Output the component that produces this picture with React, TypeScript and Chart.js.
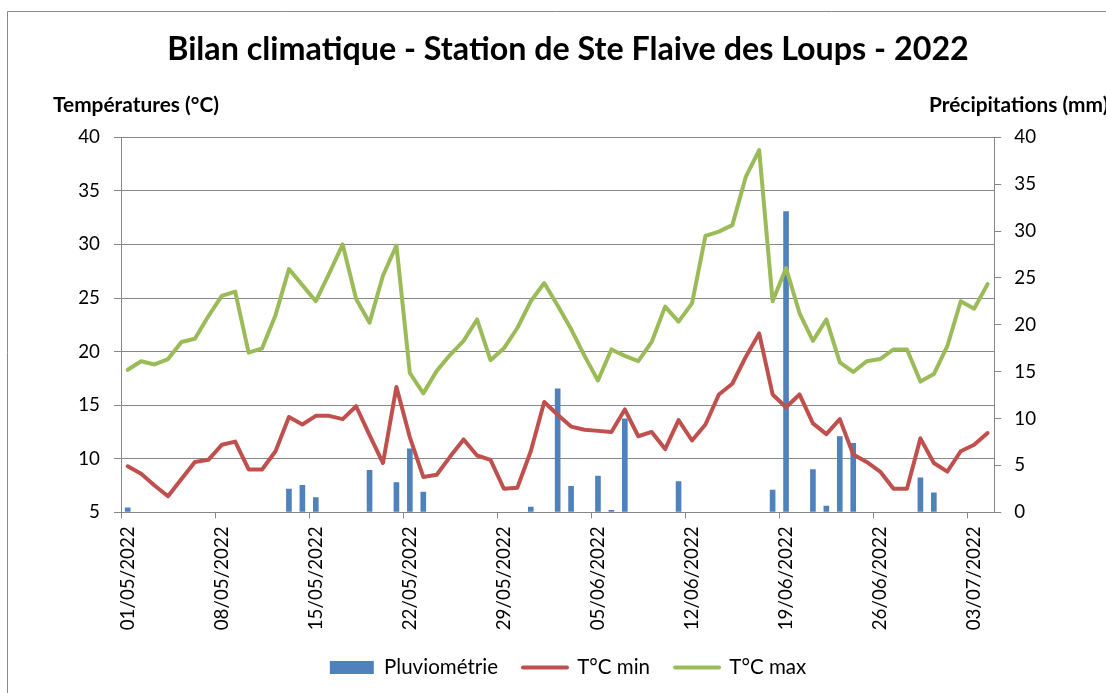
import React, { useEffect, useRef } from 'react';
import { Chart, registerables } from 'chart.js';

Chart.register(...registerables);

const dates = [
  '01/05/2022', '02/05/2022', '03/05/2022', '04/05/2022', '05/05/2022', '06/05/2022', '07/05/2022', '08/05/2022',
  '09/05/2022', '10/05/2022', '11/05/2022', '12/05/2022', '13/05/2022', '14/05/2022', '15/05/2022', '16/05/2022',
  '17/05/2022', '18/05/2022', '19/05/2022', '20/05/2022', '21/05/2022', '22/05/2022', '23/05/2022', '24/05/2022',
  '25/05/2022', '26/05/2022', '27/05/2022', '28/05/2022', '29/05/2022', '30/05/2022', '31/05/2022',
  '01/06/2022', '02/06/2022', '03/06/2022', '04/06/2022', '05/06/2022', '06/06/2022', '07/06/2022', '08/06/2022',
  '09/06/2022', '10/06/2022', '11/06/2022', '12/06/2022', '13/06/2022', '14/06/2022', '15/06/2022', '16/06/2022',
  '17/06/2022', '18/06/2022', '19/06/2022', '20/06/2022', '21/06/2022', '22/06/2022', '23/06/2022', '24/06/2022',
  '25/06/2022', '26/06/2022', '27/06/2022', '28/06/2022', '29/06/2022', '30/06/2022',
  '01/07/2022', '02/07/2022', '03/07/2022', '04/07/2022',
];

const pluviometrie = [
  0.5, 0, 0, 0, 0, 0, 0, 0, 0, 0,
  0, 0, 2.5, 2.9, 1.6, 0, 0, 0, 4.5, 0,
  3.2, 6.8, 2.2, 0, 0, 0, 0, 0, 0, 0,
  0.6, 0, 13.2, 2.8, 0, 3.9, 0.25, 10.0, 0, 0,
  0, 3.3, 0, 0, 0, 0, 0, 0, 2.4, 32.1,
  0, 4.6, 0.7, 8.1, 7.4, 0, 0, 0, 0, 3.7,
  2.1, 0, 0, 0, 0,
];

const tMin = [
  9.3, 8.6, 7.5, 6.5, 8.1, 9.7, 9.9, 11.3, 11.6, 9.0,
  9.0, 10.7, 13.9, 13.2, 14.0, 14.0, 13.7, 14.9, 12.2, 9.6,
  16.7, 12.0, 8.3, 8.5, 10.2, 11.8, 10.3, 9.9, 7.2, 7.3,
  10.7, 15.3, 14.1, 13.0, 12.7, 12.6, 12.5, 14.6, 12.1, 12.5,
  10.9, 13.6, 11.7, 13.2, 16.0, 17.0, 19.5, 21.7, 16.0, 14.8,
  16.0, 13.3, 12.3, 13.7, 10.4, 9.7, 8.8, 7.2, 7.2, 11.9,
  9.6, 8.8, 10.7, 11.3, 12.4,
];

const tMax = [
  18.3, 19.1, 18.8, 19.3, 20.9, 21.2, 23.3, 25.2, 25.6, 19.9,
  20.3, 23.4, 27.7, 26.2, 24.7, 27.3, 30.0, 24.9, 22.7, 27.1,
  29.9, 18.0, 16.1, 18.2, 19.7, 21.0, 23.0, 19.2, 20.3, 22.2,
  24.7, 26.4, 24.3, 22.1, 19.6, 17.3, 20.2, 19.6, 19.1, 20.9,
  24.2, 22.8, 24.5, 30.8, 31.2, 31.8, 36.3, 38.8, 24.7, 27.8,
  23.6, 21.0, 23.0, 19.0, 18.1, 19.1, 19.3, 20.2, 20.2, 17.2,
  17.9, 20.5, 24.7, 24.0, 26.3,
];

const tempTicks = [5, 10, 15, 20, 25, 30, 35, 40];
const rainTicks = [0, 5, 10, 15, 20, 25, 30, 35, 40];

const seriesNames = ['Pluviométrie', 'T°C min', 'T°C max'];
const titleText = 'Bilan climatique - Station de Ste Flaive des Loups - 2022';
const leftAxisTitle = 'Températures (°C)';
const rightAxisTitle = 'Précipitations (mm)';

const BLUE = '#4F81BD';
const RED = '#C0504D';
const GREEN = '#9BBB59';
const GRID = '#868686';
const FAMILY = 'Lato, "Open Sans", sans-serif';
const seriesColors = [BLUE, RED, GREEN];

const W = 1106;
const H = 693;

function fitSize(text: string, weight: string, target: number): number {
  const c = document.createElement('canvas').getContext('2d');
  if (!c) return 16;
  c.font = `${weight} 100px ${FAMILY}`;
  const w = c.measureText(text).width;
  return (100 * target) / w;
}

export default function App() {
  const ref = useRef<HTMLCanvasElement | null>(null);

  useEffect(() => {
    const canvas = ref.current;
    if (!canvas) return;
    document.body.style.overflow = 'hidden';

    const titleSize = fitSize(titleText, 'bold', 802);
    const tickSize = fitSize('01/05/2022', 'normal', 104);
    const legendSize = fitSize('Pluviométrie', 'normal', 114);
    const axisTitleSize = fitSize(leftAxisTitle, 'bold', 166);

    const chartTop = 137.3;
    const chartBottom = 512.3;
    const chartLeft = 121;
    const chartRight = 994.3;
    const padLeft = 30;

    const titlePadTop = 50 - 0.6 * titleSize;
    const titlePadBottom = chartTop - 1.2 * titleSize - titlePadTop;

    const legendPad = 25;
    const L = legendSize;
    const legendCenter = 667.5;
    const legendTop = legendCenter - legendPad - L / 2;
    const padBottom = H - legendTop - (L + legendPad + 10);
    const xAxisHeight = legendTop - chartBottom;

    const decor = {
      id: 'decor',
      beforeDraw(chart: any) {
        const ctx = chart.ctx;
        ctx.save();
        ctx.strokeStyle = '#8a8a8a';
        ctx.lineWidth = 1;
        ctx.beginPath();
        ctx.moveTo(7.5, H);
        ctx.lineTo(7.5, 11.5);
        ctx.lineTo(W, 11.5);
        ctx.stroke();
        ctx.restore();
      },
      afterDraw(chart: any) {
        const ctx = chart.ctx;
        ctx.save();
        ctx.fillStyle = '#000';
        ctx.font = `bold ${axisTitleSize}px ${FAMILY}`;
        ctx.textBaseline = 'middle';
        ctx.textAlign = 'left';
        ctx.fillText(leftAxisTitle, 53, 105);
        ctx.fillText(rightAxisTitle, 929, 105);
        ctx.restore();
      },
    };

    const chart = new Chart(canvas, {
      type: 'bar',
      data: {
        labels: dates,
        datasets: [
          {
            type: 'bar',
            label: seriesNames[0],
            data: pluviometrie,
            backgroundColor: BLUE,
            borderWidth: 0,
            yAxisID: 'y1',
            barPercentage: 0.42,
            categoryPercentage: 1,
            order: 2,
          },
          {
            type: 'line',
            label: seriesNames[1],
            data: tMin,
            borderColor: RED,
            backgroundColor: RED,
            borderWidth: 4,
            pointRadius: 0,
            pointHoverRadius: 0,
            tension: 0,
            borderJoinStyle: 'round',
            borderCapStyle: 'round',
            yAxisID: 'y',
            order: 1,
          },
          {
            type: 'line',
            label: seriesNames[2],
            data: tMax,
            borderColor: GREEN,
            backgroundColor: GREEN,
            borderWidth: 4,
            pointRadius: 0,
            pointHoverRadius: 0,
            tension: 0,
            borderJoinStyle: 'round',
            borderCapStyle: 'round',
            yAxisID: 'y',
            order: 1,
          },
        ] as any,
      },
      options: {
        responsive: false,
        animation: false,
        devicePixelRatio: 1,
        layout: { padding: { left: padLeft, right: 0, top: 0, bottom: padBottom } },
        plugins: {
          tooltip: { enabled: false },
          title: {
            display: true,
            text: titleText,
            color: '#000',
            font: { family: FAMILY, size: titleSize, weight: 'bold' },
            padding: { top: titlePadTop, bottom: titlePadBottom },
          },
          legend: {
            display: true,
            position: 'bottom',
            align: 'center',
            labels: {
              color: '#000',
              font: { family: FAMILY, size: legendSize },
              usePointStyle: true,
              pointStyleWidth: 44,
              boxHeight: 13,
              padding: legendPad,
              generateLabels: (c: any) => {
                const items = (Chart.defaults.plugins.legend.labels as any).generateLabels(c);
                items.sort((a: any, b: any) => a.datasetIndex - b.datasetIndex);
                items.forEach((it: any) => {
                  const di = it.datasetIndex;
                  const col = seriesColors[di];
                  it.text = seriesNames[di];
                  if (di === 0) {
                    it.pointStyle = 'rect';
                    it.fillStyle = col;
                    it.strokeStyle = col;
                    it.lineWidth = 0;
                  } else {
                    it.pointStyle = 'line';
                    it.fillStyle = col;
                    it.strokeStyle = col;
                    it.lineWidth = 4;
                    it.lineCap = 'round';
                  }
                });
                return items;
              },
            },
          },
        },
        scales: {
          x: {
            type: 'category',
            offset: true,
            grid: {
              offset: true,
              drawOnChartArea: false,
              drawTicks: true,
              tickLength: 6,
              color: (ctx: any) =>
                ctx.index !== undefined && ctx.index % 7 === 0 ? GRID : 'rgba(0,0,0,0)',
            },
            border: { display: true, color: GRID, width: 1 },
            ticks: {
              autoSkip: false,
              maxRotation: 90,
              minRotation: 90,
              padding: 8,
              color: '#000',
              font: { family: FAMILY, size: tickSize },
              callback: (_v: any, i: number) => (i % 7 === 0 ? dates[i] : ''),
            },
            afterFit: (s: any) => {
              s.height = xAxisHeight;
            },
          },
          y: {
            position: 'left',
            min: tempTicks[0],
            max: tempTicks[tempTicks.length - 1],
            grid: { color: GRID, lineWidth: 1, tickLength: 7, drawTicks: true },
            border: { display: true, color: GRID, width: 1 },
            ticks: {
              stepSize: tempTicks[1] - tempTicks[0],
              padding: 14,
              color: '#000',
              font: { family: FAMILY, size: tickSize },
            },
            afterFit: (s: any) => {
              s.width = chartLeft - padLeft;
            },
          },
          y1: {
            position: 'right',
            min: rainTicks[0],
            max: rainTicks[rainTicks.length - 1],
            grid: { drawOnChartArea: false, color: GRID, lineWidth: 1, tickLength: 7, drawTicks: true },
            border: { display: true, color: GRID, width: 1 },
            ticks: {
              stepSize: rainTicks[1] - rainTicks[0],
              padding: 13,
              color: '#000',
              font: { family: FAMILY, size: tickSize },
            },
            afterFit: (s: any) => {
              s.width = W - chartRight;
            },
          },
        },
      } as any,
      plugins: [decor],
    });

    return () => {
      chart.destroy();
    };
  }, []);

  return (
    <div style={{ position: 'absolute', left: 0, top: 0, width: W, height: H, background: '#fff' }}>
      <canvas ref={ref} width={W} height={H} style={{ width: W, height: H, display: 'block' }} />
    </div>
  );
}
